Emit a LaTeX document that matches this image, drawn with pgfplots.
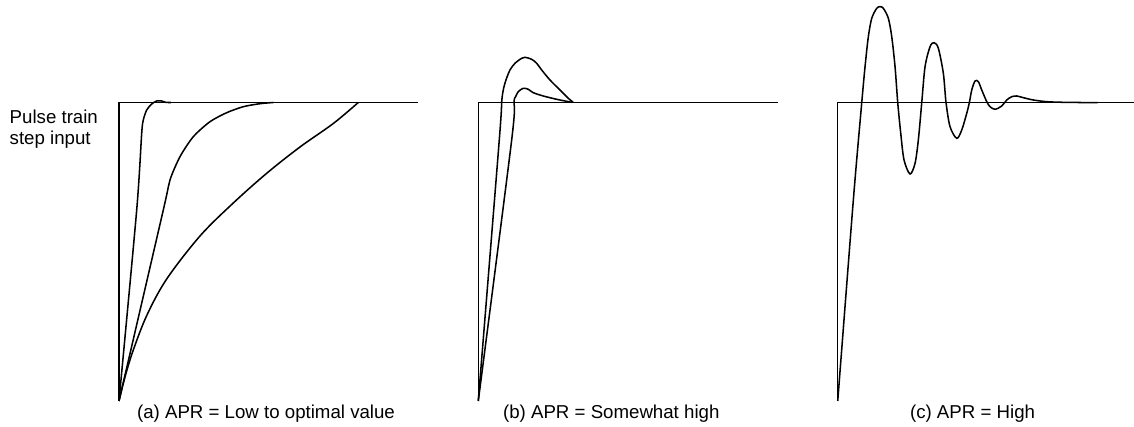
\documentclass[border=0pt]{standalone}
\usepackage{fontspec}
\setmainfont{Liberation Sans}
\usepackage{pgfplots}
\pgfplotsset{compat=1.18}

% one pixel of the reference = 0.75pt
\pgfplotsset{
  panel/.style={
    hide axis, clip=false,
    x=0.75pt, y=0.75pt,
    xmin=0, xmax=300, ymin=0, ymax=300,
    anchor=south west,
    every axis plot/.append style={black, line width=1.15pt, no markers},
  },
  step/.style={sharp plot, line width=1.1pt},
}
\newcommand{\capfont}{\fontsize{14}{16.8}\selectfont}

\begin{document}
\begin{tikzpicture}
\useasboundingbox (0,0) rectangle (850.5pt,320.25pt);

% ---------- (a) ----------
\begin{axis}[panel, at={(89.25pt,19.5pt)}]
  \addplot[step] coordinates {(0,0) (0,298.5) (299,298.5)};
  \addplot[smooth, tension=0.45] coordinates {
    (0,0) (17.7,191) (22.7,267.7) (24.3,281) (27.7,291) (32.7,297)
    (37.7,300) (42.7,300) (47,298.6) (52,298.5)};
  \addplot[smooth, tension=0.45] coordinates {
    (0,0) (44.3,191) (51,221) (61,244.3) (74.3,264.3) (91,279.3)
    (107.7,288.3) (124.3,294.3) (141,297.3) (154.3,298.5)};
  \addplot[smooth, tension=0.55] coordinates {
    (0,0) (6,24) (14.3,51) (28,86) (47.7,122) (81,165) (114.3,198)
    (147.7,227.7) (181,254) (214.3,277.5) (239.3,298.5)};
  \node[font=\capfont, anchor=base] at (axis cs:147,-17.3) {(a) APR = Low to optimal value};
  \node[font=\capfont, anchor=base west] at (axis cs:-114,277.7) {Pulse train};
  \node[font=\capfont, anchor=base west] at (axis cs:-114,256) {step input};
\end{axis}

% ---------- (b) ----------
\begin{axis}[panel, at={(358.7pt,19.5pt)}]
  \addplot[step] coordinates {(0,0) (0,298.7) (300,298.7)};
  \addplot[smooth, tension=0.5] coordinates {
    (0,0) (21,261) (23.4,298.7) (25,311) (27.7,321) (31.7,331)
    (36.7,337.7) (43.4,342.7) (46.7,343.7) (53.4,341.7) (58.4,337.7)
    (63.4,331) (71.7,321) (81.7,311) (90,302.7) (95,298.7)};
  \addplot[smooth, tension=0.5] coordinates {
    (0,0) (33.4,261) (35.7,298.7) (37.4,304.3) (40,309.3) (45,312.7)
    (50,311.7) (55,308.3) (65,305) (78.4,301.7) (93.4,298.7)};
  \node[font=\capfont, anchor=base] at (axis cs:133,-17.3) {(b) APR = Somewhat high};
\end{axis}

% ---------- (c) ----------
\begin{axis}[panel, at={(628.3pt,19.5pt)}]
  \addplot[step] coordinates {(0,0) (0,298.3) (305,298.3)};
  \addplot[smooth, tension=0.5] coordinates {
    (0,0) (15.6,201) (24,298.3) (27.3,334.3) (30.6,364.3) (34,382.7)
    (39,392.7) (42.3,394.3) (45.6,392.7) (50.6,382.7) (54,364.3)
    (57.3,334.3) (60,298.3) (63,267.7) (66.3,241) (72.3,227) (77.3,237.7)
    (80.6,261) (84,298.3) (87.3,334.3) (92.3,354.3) (96.3,358.3)
    (100.6,352.7) (105.6,327.7) (108.3,298.3) (112.3,274.3) (119,262.7)
    (124,271) (129,287.7) (131.6,298.3) (134,311) (137.3,320) (140.6,319.3)
    (144,311) (149,299.3) (152.3,294.3) (157.3,291.7) (164,295) (169,301)
    (174,304.3) (179,305) (185.6,303.3) (195.6,301) (209,299.3)
    (225.6,298.7) (260,298.3)};
  \node[font=\capfont, anchor=base] at (axis cs:134.8,-17.3) {(c) APR = High};
\end{axis}
\end{tikzpicture}
\end{document}
